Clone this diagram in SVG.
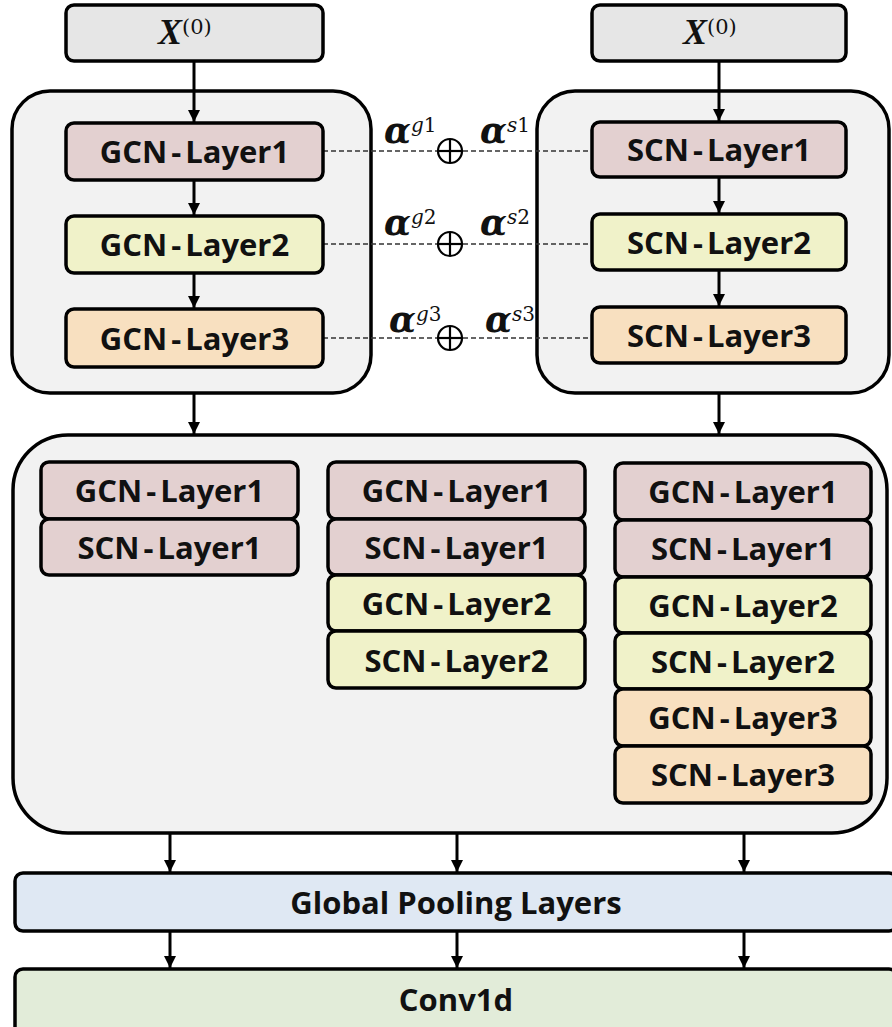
<svg xmlns="http://www.w3.org/2000/svg" width="892" height="1027" viewBox="0 0 892 1027">
<style>
.box{stroke:#000;stroke-width:3.5}
.cont{fill:#f2f2f2;stroke:#000;stroke-width:3.5}
.inp{fill:#e6e6e6}
.l1{fill:#e3d0d0}
.l2{fill:#f0f2c9}
.l3{fill:#f8e0c0}
.pool{fill:#dfe8f3}
.conv{fill:#e2ecd9}
.t{font-family:"Open Sans","Noto Sans",sans-serif;font-weight:700;font-size:31px;fill:#111;text-anchor:middle}
.math{font-family:"DejaVu Serif","Liberation Serif",serif;fill:#111}
.a{font-weight:700;font-style:italic;font-size:35px}
.sup{font-family:"DejaVu Serif",serif;font-size:20px}
.arr{stroke:#000;stroke-width:3;fill:none;marker-end:url(#ah)}
.dash{stroke:#333;stroke-width:1.3;stroke-dasharray:5 3;fill:none}
.op{fill:none;stroke:#000;stroke-width:2.2}
</style>
<defs>
<marker id="ah" markerUnits="userSpaceOnUse" markerWidth="13" markerHeight="13" refX="12" refY="6" orient="auto">
<path d="M0,0 L12,6 L0,12 z" fill="#000"/>
</marker>
</defs>

<g id="containers">
<rect id="gcn-container" class="cont" x="12" y="91" width="359" height="302" rx="38"/>
<rect id="scn-container" class="cont" x="537" y="91" width="352" height="302" rx="38"/>
<rect id="fusion-container" class="cont" x="13" y="435" width="874" height="398" rx="55"/>
</g>

<g id="connectors">
<line class="arr" x1="194" y1="61" x2="194" y2="122"/>
<line class="arr" x1="194" y1="180" x2="194" y2="215"/>
<line class="arr" x1="194" y1="273" x2="194" y2="308"/>
<line class="arr" x1="719" y1="61" x2="719" y2="121"/>
<line class="arr" x1="719" y1="177" x2="719" y2="213"/>
<line class="arr" x1="719" y1="270" x2="719" y2="306"/>
<line class="arr" x1="194" y1="393" x2="194" y2="434"/>
<line class="arr" x1="719" y1="393" x2="719" y2="434"/>
<line class="arr" x1="170" y1="833" x2="170" y2="872"/>
<line class="arr" x1="457" y1="833" x2="457" y2="872"/>
<line class="arr" x1="744" y1="833" x2="744" y2="872"/>
<line class="arr" x1="170" y1="931" x2="170" y2="968"/>
<line class="arr" x1="457" y1="931" x2="457" y2="968"/>
<line class="arr" x1="744" y1="931" x2="744" y2="968"/>
<line class="dash" x1="323" y1="151" x2="437" y2="151"/>
<line class="dash" x1="463" y1="151" x2="592" y2="151"/>
<line class="dash" x1="323" y1="244" x2="437" y2="244"/>
<line class="dash" x1="463" y1="244" x2="592" y2="244"/>
<line class="dash" x1="323" y1="338" x2="437" y2="338"/>
<line class="dash" x1="463" y1="338" x2="592" y2="338"/>
</g>

<g id="oplus1"><circle class="op" cx="450" cy="151" r="12"/><line class="op" x1="438" y1="151" x2="462" y2="151"/><line class="op" x1="450" y1="139" x2="450" y2="163"/></g>
<g id="oplus2"><circle class="op" cx="450" cy="244" r="12"/><line class="op" x1="438" y1="244" x2="462" y2="244"/><line class="op" x1="450" y1="232" x2="450" y2="256"/></g>
<g id="oplus3"><circle class="op" cx="450" cy="338" r="12"/><line class="op" x1="438" y1="338" x2="462" y2="338"/><line class="op" x1="450" y1="326" x2="450" y2="350"/></g>

<g id="alpha-labels" class="math">
<text x="384" y="143"><tspan class="a">α</tspan><tspan class="sup" font-style="italic" dy="-11">g</tspan><tspan class="sup">1</tspan></text>
<text x="480" y="143"><tspan class="a">α</tspan><tspan class="sup" font-style="italic" dy="-11">s</tspan><tspan class="sup">1</tspan></text>
<text x="384" y="235"><tspan class="a">α</tspan><tspan class="sup" font-style="italic" dy="-11">g</tspan><tspan class="sup">2</tspan></text>
<text x="480" y="235"><tspan class="a">α</tspan><tspan class="sup" font-style="italic" dy="-11">s</tspan><tspan class="sup">2</tspan></text>
<text x="389" y="332"><tspan class="a">α</tspan><tspan class="sup" font-style="italic" dy="-11">g</tspan><tspan class="sup">3</tspan></text>
<text x="485" y="332"><tspan class="a">α</tspan><tspan class="sup" font-style="italic" dy="-11">s</tspan><tspan class="sup">3</tspan></text>
</g>

<g id="input-left"><rect class="box inp" x="66" y="5" width="257" height="56" rx="8"/>
<text class="math" x="158" y="44"><tspan font-family="Liberation Serif" font-weight="700" font-style="italic" font-size="36">X</tspan><tspan font-family="DejaVu Serif" font-size="21" dy="-10">(0)</tspan></text></g>
<g id="input-right"><rect class="box inp" x="592" y="5" width="254" height="56" rx="8"/>
<text class="math" x="683" y="44"><tspan font-family="Liberation Serif" font-weight="700" font-style="italic" font-size="36">X</tspan><tspan font-family="DejaVu Serif" font-size="21" dy="-10">(0)</tspan></text></g>

<g id="gcn-layer1"><rect class="box l1" x="66" y="123" width="257" height="57" rx="8"/><text class="t" x="194.5" y="163">GCN<tspan dx="4">-</tspan><tspan dx="4">Layer1</tspan></text></g>
<g id="gcn-layer2"><rect class="box l2" x="66" y="216" width="257" height="57" rx="8"/><text class="t" x="194.5" y="256">GCN<tspan dx="4">-</tspan><tspan dx="4">Layer2</tspan></text></g>
<g id="gcn-layer3"><rect class="box l3" x="66" y="309" width="257" height="58" rx="8"/><text class="t" x="194.5" y="350">GCN<tspan dx="4">-</tspan><tspan dx="4">Layer3</tspan></text></g>

<g id="scn-layer1"><rect class="box l1" x="592" y="122" width="254" height="55" rx="8"/><text class="t" x="719" y="161">SCN<tspan dx="4">-</tspan><tspan dx="4">Layer1</tspan></text></g>
<g id="scn-layer2"><rect class="box l2" x="592" y="214" width="254" height="56" rx="8"/><text class="t" x="719" y="254">SCN<tspan dx="4">-</tspan><tspan dx="4">Layer2</tspan></text></g>
<g id="scn-layer3"><rect class="box l3" x="592" y="307" width="254" height="56" rx="8"/><text class="t" x="719" y="347">SCN<tspan dx="4">-</tspan><tspan dx="4">Layer3</tspan></text></g>

<g id="col1-gcn1"><rect class="box l1" x="41" y="462" width="257" height="57" rx="8"/><text class="t" x="169.5" y="502">GCN<tspan dx="4">-</tspan><tspan dx="4">Layer1</tspan></text></g>
<g id="col1-scn1"><rect class="box l1" x="41" y="519" width="257" height="56" rx="8"/><text class="t" x="169.5" y="559">SCN<tspan dx="4">-</tspan><tspan dx="4">Layer1</tspan></text></g>

<g id="col2-gcn1"><rect class="box l1" x="328" y="462" width="257" height="57" rx="8"/><text class="t" x="456.5" y="502">GCN<tspan dx="4">-</tspan><tspan dx="4">Layer1</tspan></text></g>
<g id="col2-scn1"><rect class="box l1" x="328" y="519" width="257" height="56" rx="8"/><text class="t" x="456.5" y="559">SCN<tspan dx="4">-</tspan><tspan dx="4">Layer1</tspan></text></g>
<g id="col2-gcn2"><rect class="box l2" x="328" y="575" width="257" height="56" rx="8"/><text class="t" x="456.5" y="615">GCN<tspan dx="4">-</tspan><tspan dx="4">Layer2</tspan></text></g>
<g id="col2-scn2"><rect class="box l2" x="328" y="631" width="257" height="57" rx="8"/><text class="t" x="456.5" y="672">SCN<tspan dx="4">-</tspan><tspan dx="4">Layer2</tspan></text></g>

<g id="col3-gcn1"><rect class="box l1" x="615" y="463" width="256" height="57" rx="8"/><text class="t" x="743" y="503">GCN<tspan dx="4">-</tspan><tspan dx="4">Layer1</tspan></text></g>
<g id="col3-scn1"><rect class="box l1" x="615" y="520" width="256" height="57" rx="8"/><text class="t" x="743" y="560">SCN<tspan dx="4">-</tspan><tspan dx="4">Layer1</tspan></text></g>
<g id="col3-gcn2"><rect class="box l2" x="615" y="577" width="256" height="56" rx="8"/><text class="t" x="743" y="617">GCN<tspan dx="4">-</tspan><tspan dx="4">Layer2</tspan></text></g>
<g id="col3-scn2"><rect class="box l2" x="615" y="633" width="256" height="56" rx="8"/><text class="t" x="743" y="673">SCN<tspan dx="4">-</tspan><tspan dx="4">Layer2</tspan></text></g>
<g id="col3-gcn3"><rect class="box l3" x="615" y="689" width="256" height="57" rx="8"/><text class="t" x="743" y="729">GCN<tspan dx="4">-</tspan><tspan dx="4">Layer3</tspan></text></g>
<g id="col3-scn3"><rect class="box l3" x="615" y="746" width="256" height="57" rx="8"/><text class="t" x="743" y="786">SCN<tspan dx="4">-</tspan><tspan dx="4">Layer3</tspan></text></g>

<g id="global-pooling"><rect class="box pool" x="15" y="873" width="882" height="58" rx="8"/><text class="t" x="456" y="914">Global Pooling Layers</text></g>
<g id="conv1d"><rect class="box conv" x="15" y="969" width="882" height="70" rx="8"/><text class="t" x="456" y="1011">Conv1d</text></g>
</svg>
